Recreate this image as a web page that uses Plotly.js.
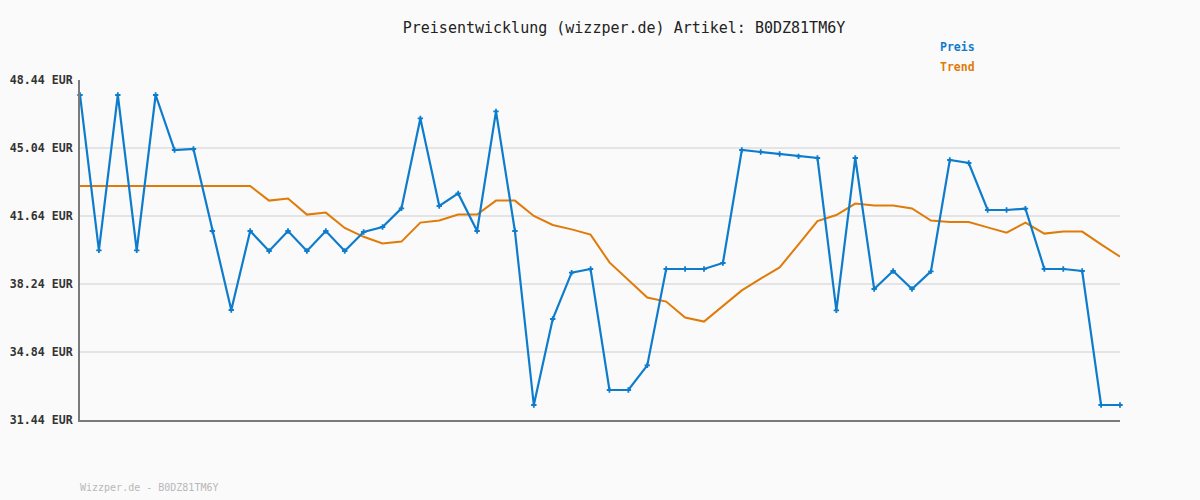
<!DOCTYPE html>
<html>
<head>
<meta charset="utf-8">
<script src="https://cdn.plot.ly/plotly-3.0.1.min.js"></script>
<style>html,body{margin:0;padding:0;background:#fafafa;}#chart{width:1200px;height:500px;}</style>
</head>
<body>
<div id="chart"></div>
<script>
const preis = [47.69, 39.92, 47.69, 39.92, 47.69, 44.94, 44.99, 40.89, 36.94, 40.89,
  39.89, 40.89, 39.89, 40.89, 39.89, 40.84, 41.09, 42.02, 46.52, 42.14,
  42.77, 40.89, 46.87, 40.89, 32.19, 36.49, 38.81, 38.99, 32.94, 32.94,
  34.17, 38.99, 38.99, 38.99, 39.29, 44.94, 44.84, 44.74, 44.62, 44.54,
  36.92, 44.54, 37.99, 38.89, 37.99, 38.87, 44.44, 44.29, 41.94, 41.94,
  42.01, 38.99, 38.99, 38.89, 32.19, 32.19];
const trend = [43.14, 43.14, 43.14, 43.14, 43.14, 43.14, 43.14, 43.14, 43.14, 43.14,
  42.41, 42.51, 41.71, 41.81, 41.04, 40.60, 40.27, 40.36, 41.31, 41.42,
  41.71, 41.71, 42.41, 42.41, 41.64, 41.19, 40.97, 40.71, 39.32, 38.44,
  37.56, 37.36, 36.56, 36.36, 37.16, 37.92, 38.51, 39.07, 40.22, 41.39,
  41.69, 42.26, 42.16, 42.16, 42.02, 41.41, 41.34, 41.34, 41.07, 40.81,
  41.31, 40.76, 40.86, 40.86, 40.22, 39.61];
const tickVals = [31.44, 34.84, 38.24, 41.64, 45.04, 48.44];
const tickLabels = ['31.44 EUR', '34.84 EUR', '38.24 EUR', '41.64 EUR', '45.04 EUR', '48.44 EUR'];
const titleText = 'Preisentwicklung (wizzper.de) Artikel: B0DZ81TM6Y';
const footerText = 'Wizzper.de - B0DZ81TM6Y';

const mono = '"DejaVu Sans Mono", "Liberation Mono", monospace';
const blue = '#0e7ccc';
const orange = '#e07b0a';

const traces = [
  {y: trend, type: 'scatter', mode: 'lines', name: 'Trend',
   line: {color: orange, width: 2}, cliponaxis: false, hoverinfo: 'y'},
  {y: preis, type: 'scatter', mode: 'lines+markers', name: 'Preis',
   line: {color: blue, width: 2.2}, marker: {symbol: 'cross', size: 4.5, color: blue},
   cliponaxis: false, hoverinfo: 'y'}
];

const layout = {
  width: 1200, height: 500,
  margin: {l: 80, r: 80, t: 80, b: 80},
  paper_bgcolor: '#fafafa', plot_bgcolor: '#fafafa',
  showlegend: false,
  title: {text: titleText, x: 0.52, xref: 'container', xanchor: 'center',
          y: 0.944, yref: 'container', yanchor: 'middle',
          font: {family: mono, size: 15, color: '#222'}},
  xaxis: {range: [0, preis.length - 1], showgrid: false, zeroline: false,
          showticklabels: false, ticks: '', showline: true, linecolor: '#7a7a7a', linewidth: 2,
          fixedrange: true},
  yaxis: {range: [31.44, 48.44], tickvals: tickVals, ticktext: tickLabels,
          showgrid: true, gridcolor: '#e4e4e4', gridwidth: 2, zeroline: false,
          showline: true, linecolor: '#7a7a7a', linewidth: 2, ticks: '',
          ticklabelstandoff: 3,
          tickfont: {family: mono, size: 11.6, color: '#333', weight: 'bold'},
          fixedrange: true},
  annotations: [
    {text: 'Preis', xref: 'paper', yref: 'paper', x: (938 - 80) / 1040, y: (420 - 47) / 340,
     xanchor: 'left', yanchor: 'middle', showarrow: false,
     font: {family: mono, size: 11.5, color: blue, weight: 'bold'}},
    {text: 'Trend', xref: 'paper', yref: 'paper', x: (938 - 80) / 1040, y: (420 - 67) / 340,
     xanchor: 'left', yanchor: 'middle', showarrow: false,
     font: {family: mono, size: 11.5, color: orange, weight: 'bold'}},
    {text: footerText, xref: 'paper', yref: 'paper', x: -2 / 1040, y: (420 - 487) / 340,
     xanchor: 'left', yanchor: 'middle', showarrow: false,
     font: {family: mono, size: 10, color: '#b8b8b8'}}
  ]
};

Plotly.newPlot('chart', traces, layout, {displayModeBar: false, staticPlot: true});
</script>
</body>
</html>
